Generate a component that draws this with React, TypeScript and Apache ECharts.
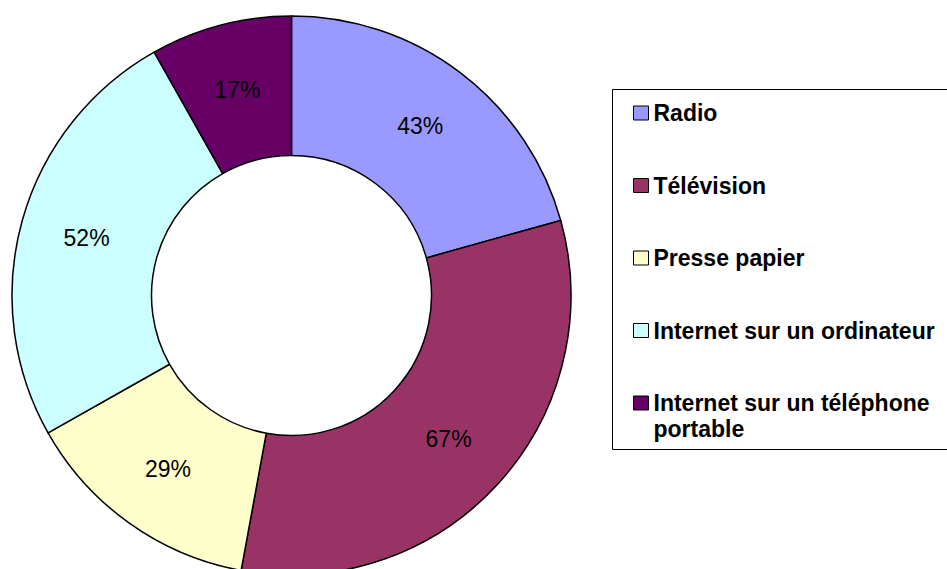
import React, { useEffect, useRef } from "react";
import * as echarts from "echarts";

const categories = [
  "Radio",
  "Télévision",
  "Presse papier",
  "Internet sur un ordinateur",
  "Internet sur un téléphone portable",
];
const legendLabels = [
  "Radio",
  "Télévision",
  "Presse papier",
  "Internet sur un ordinateur",
  "Internet sur un téléphone\nportable",
];
const values = [43, 67, 29, 52, 17];
const colors = ["#9999FF", "#993366", "#FFFFCC", "#CCFFFF", "#660066"];

const FONT = "'Liberation Sans', Arial, Helvetica, sans-serif";

export default function App() {
  const ref = useRef<HTMLDivElement>(null);
  useEffect(() => {
    if (!ref.current) return;
    const chart = echarts.init(ref.current, undefined, { renderer: "svg" });
    const L = 26;
    chart.setOption({
      animation: false,
      backgroundColor: "#ffffff",
      textStyle: { fontFamily: FONT },
      graphic: [
        {
          type: "rect",
          shape: { x: 612.5, y: 89.5, width: 400, height: 360 },
          style: { fill: "none", stroke: "#000", lineWidth: 1 },
          silent: true,
        },
      ],
      legend: {
        orient: "vertical",
        left: 633,
        top: 74,
        padding: 0,
        itemWidth: 15,
        itemHeight: 14,
        itemGap: -5.5,
        selectedMode: false,
        icon: "rect",
        itemStyle: { borderColor: "#000", borderWidth: 1 },
        data: categories,
        formatter: (name: string) => {
          const lbl = legendLabels[categories.indexOf(name)];
          return lbl.indexOf("\n") >= 0 ? " \n" + lbl : " \n" + lbl + "\n ";
        },
        textStyle: {
          fontFamily: FONT,
          fontSize: 23,
          fontWeight: "bold",
          color: "#000",
          lineHeight: L,
        },
      },
      series: [
        {
          type: "pie",
          center: [291.5, 295.5],
          radius: [140, 279.5],
          startAngle: 90,
          clockwise: true,
          avoidLabelOverlap: false,
          emphasis: { disabled: true },
          itemStyle: { borderColor: "#000", borderWidth: 1.5 },
          label: {
            show: true,
            position: "inside",
            formatter: "{c}%",
            fontFamily: FONT,
            fontSize: 23,
            color: "#000",
          },
          labelLine: { show: false },
          data: categories.map((name, i) => ({
            name,
            value: values[i],
            itemStyle: { color: colors[i] },
          })),
        },
      ],
    });
    return () => chart.dispose();
  }, []);
  return (
    <div
      ref={ref}
      style={{ position: "fixed", left: 0, top: 0, width: 947, height: 569 }}
    />
  );
}
